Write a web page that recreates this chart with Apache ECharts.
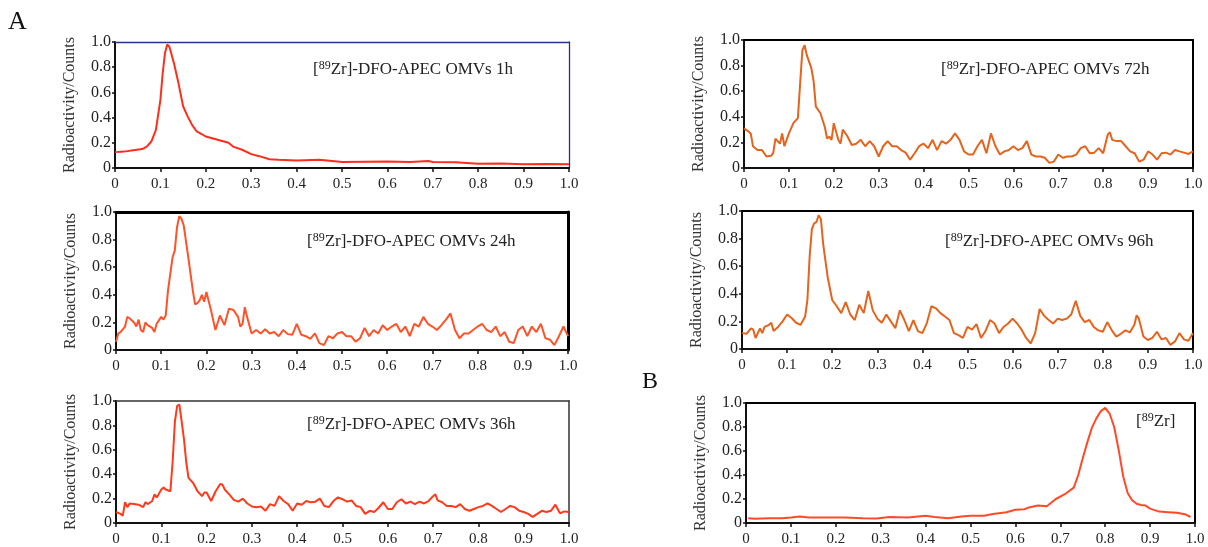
<!DOCTYPE html>
<html><head><meta charset="utf-8">
<script src="https://cdn.jsdelivr.net/npm/echarts@6/dist/echarts.min.js"></script>
<style>html,body{margin:0;padding:0;background:#fff}#c{width:1208px;height:547px}</style>
</head><body><div id="c"></div>
<script>
// ---- data (x = relative migration distance, y = radioactivity/counts) ----
const xTicks = [0,0.1,0.2,0.3,0.4,0.5,0.6,0.7,0.8,0.9,1.0];
const yTicks = [0,0.2,0.4,0.6,0.8,1.0];
const panelLabels = ['1h','24h','36h','72h','96h','free'];

const omv1h = [[0,0.126],[0.02,0.13],[0.04,0.14],[0.06,0.15],[0.07,0.17],[0.08,0.21],[0.09,0.30],[0.1,0.54],[0.105,0.75],[0.11,0.91],[0.115,0.98],[0.12,0.96],[0.13,0.83],[0.14,0.67],[0.15,0.49],[0.16,0.41],[0.17,0.34],[0.18,0.29],[0.19,0.27],[0.2,0.25],[0.22,0.23],[0.24,0.21],[0.25,0.2],[0.26,0.17],[0.28,0.145],[0.3,0.11],[0.32,0.092],[0.34,0.07],[0.36,0.066],[0.4,0.06],[0.45,0.066],[0.5,0.047],[0.55,0.05],[0.6,0.052],[0.65,0.048],[0.69,0.055],[0.7,0.047],[0.75,0.045],[0.8,0.034],[0.85,0.035],[0.9,0.03],[0.95,0.032],[1.0,0.03]];

const omv24h = [[0,0.06],[0.005,0.12],[0.01,0.13],[0.02,0.17],[0.025,0.24],[0.03,0.23],[0.04,0.2],[0.045,0.17],[0.05,0.22],[0.055,0.145],[0.06,0.13],[0.065,0.2],[0.07,0.18],[0.08,0.16],[0.085,0.13],[0.09,0.19],[0.1,0.24],[0.105,0.22],[0.11,0.25],[0.115,0.43],[0.12,0.55],[0.125,0.67],[0.13,0.72],[0.135,0.89],[0.14,0.97],[0.145,0.95],[0.15,0.9],[0.16,0.67],[0.17,0.43],[0.175,0.33],[0.18,0.34],[0.185,0.36],[0.19,0.4],[0.195,0.35],[0.2,0.42],[0.21,0.29],[0.22,0.145],[0.23,0.25],[0.24,0.18],[0.25,0.3],[0.26,0.29],[0.27,0.24],[0.275,0.17],[0.28,0.19],[0.285,0.31],[0.29,0.24],[0.3,0.12],[0.31,0.145],[0.32,0.12],[0.33,0.15],[0.34,0.12],[0.35,0.13],[0.36,0.1],[0.37,0.145],[0.38,0.115],[0.39,0.11],[0.4,0.19],[0.41,0.11],[0.42,0.1],[0.43,0.08],[0.44,0.12],[0.45,0.05],[0.46,0.035],[0.47,0.1],[0.48,0.085],[0.49,0.12],[0.5,0.13],[0.51,0.1],[0.52,0.1],[0.53,0.06],[0.54,0.085],[0.55,0.16],[0.56,0.1],[0.57,0.145],[0.58,0.12],[0.59,0.18],[0.6,0.145],[0.61,0.17],[0.62,0.19],[0.63,0.13],[0.64,0.17],[0.65,0.1],[0.66,0.19],[0.67,0.17],[0.68,0.24],[0.69,0.19],[0.7,0.17],[0.71,0.145],[0.72,0.18],[0.73,0.22],[0.74,0.265],[0.75,0.145],[0.76,0.085],[0.77,0.12],[0.78,0.12],[0.79,0.145],[0.8,0.17],[0.81,0.19],[0.82,0.145],[0.83,0.13],[0.84,0.17],[0.85,0.1],[0.86,0.13],[0.87,0.06],[0.88,0.05],[0.89,0.145],[0.9,0.17],[0.91,0.1],[0.92,0.17],[0.93,0.13],[0.94,0.19],[0.95,0.085],[0.96,0.075],[0.97,0.035],[0.98,0.1],[0.99,0.17],[1.0,0.1]];

const omv36h = [[0,0.09],[0.01,0.075],[0.015,0.06],[0.02,0.17],[0.025,0.13],[0.03,0.16],[0.04,0.155],[0.05,0.15],[0.06,0.13],[0.065,0.17],[0.07,0.155],[0.08,0.18],[0.085,0.235],[0.09,0.21],[0.1,0.275],[0.105,0.29],[0.11,0.275],[0.12,0.26],[0.125,0.5],[0.13,0.83],[0.135,0.96],[0.14,0.97],[0.145,0.83],[0.15,0.69],[0.155,0.5],[0.16,0.37],[0.17,0.33],[0.18,0.26],[0.19,0.22],[0.195,0.25],[0.2,0.25],[0.21,0.18],[0.22,0.26],[0.23,0.32],[0.235,0.315],[0.24,0.275],[0.25,0.235],[0.26,0.19],[0.27,0.175],[0.28,0.2],[0.29,0.16],[0.3,0.135],[0.31,0.13],[0.32,0.135],[0.33,0.1],[0.34,0.155],[0.35,0.14],[0.36,0.22],[0.37,0.18],[0.38,0.155],[0.39,0.1],[0.4,0.16],[0.41,0.15],[0.42,0.18],[0.43,0.17],[0.44,0.175],[0.45,0.2],[0.46,0.14],[0.47,0.13],[0.48,0.18],[0.49,0.21],[0.5,0.195],[0.51,0.175],[0.52,0.185],[0.53,0.14],[0.54,0.13],[0.55,0.075],[0.56,0.1],[0.57,0.09],[0.58,0.125],[0.59,0.17],[0.6,0.115],[0.61,0.115],[0.62,0.17],[0.63,0.195],[0.64,0.16],[0.65,0.175],[0.66,0.155],[0.67,0.175],[0.68,0.16],[0.69,0.18],[0.7,0.22],[0.705,0.235],[0.71,0.185],[0.72,0.17],[0.73,0.14],[0.74,0.14],[0.75,0.13],[0.76,0.155],[0.77,0.115],[0.78,0.1],[0.79,0.115],[0.8,0.13],[0.81,0.14],[0.82,0.16],[0.83,0.14],[0.84,0.115],[0.85,0.09],[0.86,0.115],[0.87,0.14],[0.88,0.13],[0.89,0.1],[0.9,0.09],[0.91,0.075],[0.92,0.05],[0.93,0.075],[0.94,0.1],[0.95,0.09],[0.96,0.1],[0.97,0.15],[0.98,0.08],[0.99,0.095],[1.0,0.09]];

const omv72h = [[0,0.31],[0.01,0.285],[0.015,0.27],[0.02,0.17],[0.03,0.14],[0.04,0.14],[0.045,0.115],[0.05,0.09],[0.06,0.095],[0.065,0.115],[0.07,0.23],[0.075,0.21],[0.08,0.19],[0.085,0.27],[0.09,0.17],[0.1,0.27],[0.11,0.35],[0.12,0.39],[0.125,0.66],[0.13,0.92],[0.135,0.96],[0.14,0.88],[0.15,0.78],[0.155,0.68],[0.16,0.48],[0.17,0.43],[0.18,0.32],[0.185,0.23],[0.19,0.245],[0.195,0.22],[0.2,0.35],[0.21,0.22],[0.215,0.19],[0.22,0.30],[0.23,0.25],[0.24,0.18],[0.25,0.19],[0.26,0.22],[0.27,0.17],[0.28,0.21],[0.29,0.17],[0.3,0.09],[0.31,0.17],[0.32,0.21],[0.33,0.17],[0.34,0.17],[0.35,0.14],[0.36,0.12],[0.37,0.065],[0.38,0.115],[0.39,0.17],[0.4,0.19],[0.41,0.155],[0.42,0.22],[0.43,0.14],[0.44,0.21],[0.45,0.19],[0.46,0.22],[0.47,0.27],[0.48,0.22],[0.49,0.13],[0.5,0.105],[0.51,0.105],[0.52,0.17],[0.53,0.22],[0.54,0.115],[0.55,0.27],[0.56,0.17],[0.57,0.105],[0.58,0.13],[0.59,0.14],[0.6,0.17],[0.61,0.14],[0.62,0.155],[0.63,0.21],[0.64,0.105],[0.65,0.09],[0.66,0.09],[0.67,0.08],[0.68,0.04],[0.69,0.05],[0.7,0.105],[0.71,0.08],[0.72,0.09],[0.73,0.09],[0.74,0.105],[0.75,0.155],[0.76,0.17],[0.77,0.115],[0.78,0.12],[0.79,0.155],[0.8,0.115],[0.81,0.26],[0.815,0.28],[0.82,0.22],[0.83,0.21],[0.84,0.21],[0.85,0.17],[0.86,0.13],[0.87,0.115],[0.88,0.05],[0.89,0.065],[0.9,0.13],[0.91,0.105],[0.92,0.065],[0.93,0.115],[0.94,0.12],[0.95,0.105],[0.96,0.14],[0.97,0.13],[0.98,0.12],[0.99,0.11],[1.0,0.13]];

const omv96h = [[0,0.115],[0.01,0.11],[0.02,0.15],[0.025,0.14],[0.03,0.08],[0.04,0.15],[0.045,0.115],[0.05,0.16],[0.06,0.175],[0.065,0.19],[0.07,0.13],[0.08,0.16],[0.09,0.2],[0.1,0.25],[0.11,0.225],[0.12,0.19],[0.13,0.175],[0.14,0.235],[0.145,0.355],[0.15,0.67],[0.155,0.87],[0.16,0.91],[0.165,0.92],[0.17,0.97],[0.175,0.94],[0.18,0.76],[0.19,0.52],[0.2,0.355],[0.21,0.31],[0.22,0.26],[0.23,0.34],[0.24,0.25],[0.25,0.21],[0.26,0.32],[0.27,0.26],[0.28,0.42],[0.29,0.28],[0.3,0.22],[0.31,0.19],[0.32,0.25],[0.33,0.2],[0.34,0.15],[0.35,0.28],[0.36,0.21],[0.37,0.13],[0.38,0.21],[0.39,0.13],[0.4,0.115],[0.41,0.19],[0.42,0.31],[0.43,0.295],[0.44,0.26],[0.45,0.235],[0.46,0.21],[0.47,0.115],[0.48,0.1],[0.49,0.08],[0.5,0.16],[0.51,0.14],[0.52,0.18],[0.53,0.08],[0.54,0.13],[0.55,0.21],[0.56,0.185],[0.57,0.115],[0.58,0.16],[0.59,0.185],[0.6,0.22],[0.61,0.185],[0.62,0.14],[0.63,0.08],[0.64,0.04],[0.65,0.115],[0.66,0.29],[0.67,0.24],[0.68,0.21],[0.69,0.185],[0.7,0.22],[0.71,0.21],[0.72,0.22],[0.73,0.25],[0.74,0.35],[0.75,0.24],[0.76,0.195],[0.77,0.21],[0.78,0.16],[0.79,0.135],[0.8,0.125],[0.81,0.195],[0.82,0.135],[0.83,0.09],[0.84,0.11],[0.85,0.135],[0.86,0.12],[0.87,0.175],[0.875,0.245],[0.88,0.22],[0.89,0.09],[0.9,0.065],[0.91,0.08],[0.92,0.125],[0.93,0.07],[0.94,0.08],[0.95,0.03],[0.96,0.055],[0.97,0.115],[0.98,0.07],[0.99,0.06],[1.0,0.115]];

const freeZr = [[0.005,0.04],[0.02,0.035],[0.05,0.04],[0.08,0.04],[0.1,0.045],[0.12,0.055],[0.14,0.045],[0.18,0.045],[0.22,0.045],[0.26,0.04],[0.29,0.038],[0.32,0.05],[0.36,0.045],[0.4,0.06],[0.42,0.05],[0.45,0.04],[0.48,0.055],[0.5,0.06],[0.53,0.06],[0.55,0.075],[0.58,0.09],[0.6,0.11],[0.62,0.115],[0.63,0.13],[0.65,0.145],[0.67,0.14],[0.69,0.2],[0.71,0.24],[0.73,0.295],[0.74,0.4],[0.75,0.54],[0.76,0.67],[0.77,0.79],[0.78,0.87],[0.79,0.93],[0.8,0.96],[0.81,0.91],[0.82,0.8],[0.83,0.61],[0.84,0.39],[0.85,0.25],[0.86,0.19],[0.87,0.16],[0.88,0.15],[0.89,0.145],[0.9,0.12],[0.92,0.095],[0.94,0.09],[0.96,0.085],[0.98,0.07],[0.99,0.05]];

// ---- layout / style ----
const panels = [
  {data: omv1h,  title: '[{s|89}Zr]-DFO-APEC OMVs 1h',  tx: 313, ty: 74, grid:{left:115,top:42,width:454,height:126}, color:'#ff2e1c', edge:'#23348a', edgeW:1.3},
  {data: omv24h, title: '[{s|89}Zr]-DFO-APEC OMVs 24h', tx: 307, ty: 246, grid:{left:116,top:212,width:452,height:138}, color:'#ff5228', edge:'#000', edgeW:3},
  {data: omv36h, title: '[{s|89}Zr]-DFO-APEC OMVs 36h', tx: 307, ty: 429, grid:{left:116,top:401,width:453,height:125}, color:'#ff3a1c', edge:'#333', edgeW:1.5},
  {data: omv72h, title: '[{s|89}Zr]-DFO-APEC OMVs 72h', tx: 941, ty: 74, grid:{left:744,top:40,width:449,height:128}, color:'#e4641e', edge:'#000', edgeW:2},
  {data: omv96h, title: '[{s|89}Zr]-DFO-APEC OMVs 96h', tx: 945, ty: 246, grid:{left:742,top:211,width:451,height:138}, color:'#e4641e', edge:'#000', edgeW:2},
  {data: freeZr, title: '[{s|89}Zr]', tx: 1136, ty: 426, grid:{left:746,top:403,width:449,height:121}, color:'#ff4a2a', edge:'#000', edgeW:2}
];

const serif = 'Liberation Serif, Times New Roman, serif';
const fmt = v => (Math.abs(v) < 1e-9 ? '0' : v.toFixed(1));

const grids = [], xAxes = [], yAxes = [], series = [], graphics = [];
panels.forEach((p, i) => {
  grids.push(Object.assign({containLabel:false}, p.grid));
  xAxes.push({gridIndex:i, type:'value', min:xTicks[0], max:xTicks[xTicks.length-1], interval:0.1, position:'bottom',
    axisLine:{show:true, onZero:false, lineStyle:{color:'#111', width:2}},
    axisTick:{show:true, length:4, lineStyle:{color:'#111', width:1.5}},
    axisLabel:{fontFamily:serif, fontSize:15, color:'#222', margin:9, formatter:fmt, showMinLabel:true, showMaxLabel:true},
    splitLine:{show:false}});
  xAxes.push({gridIndex:i, type:'value', min:0, max:1, position:'top',
    axisLine:{show:true, onZero:false, lineStyle:{color:p.edge, width:p.edgeW}},
    axisTick:{show:false}, axisLabel:{show:false}, splitLine:{show:false}});
  yAxes.push({gridIndex:i, type:'value', min:yTicks[0], max:yTicks[yTicks.length-1], interval:0.2, position:'left',
    name:'Radioactivity/Counts', nameLocation:'middle', nameGap:37, nameRotate:90,
    nameTextStyle:{fontFamily:serif, fontSize:16, color:'#333'},
    axisLine:{show:true, onZero:false, lineStyle:{color:'#111', width:2}},
    axisTick:{show:true, length:3, lineStyle:{color:'#111', width:1.5}},
    axisLabel:{fontFamily:serif, fontSize:16, color:'#222', margin:4, formatter:fmt},
    splitLine:{show:false}});
  yAxes.push({gridIndex:i, type:'value', min:0, max:1, position:'right',
    axisLine:{show:true, onZero:false, lineStyle:{color:p.edge, width:p.edgeW}},
    axisTick:{show:false}, axisLabel:{show:false}, splitLine:{show:false}});
  series.push({type:'line', xAxisIndex:2*i, yAxisIndex:2*i, data:p.data, showSymbol:false, symbol:'none',
    lineStyle:{color:p.color, width:2}, animation:false, z:3});
  graphics.push({type:'text', left:p.tx, top:p.ty - 14, style:{
    text:p.title, fill:'#222', font:'17px ' + serif,
    rich:{s:{fontSize:12, fontFamily:serif, fill:'#222', padding:[0,0,8,0], verticalAlign:'bottom'},
          t:{fontSize:17}}
  }});
});
graphics.push({type:'text', left:8, top:9, style:{text:'A', font:'26px ' + serif, fill:'#111'}});
graphics.push({type:'text', left:642, top:370, style:{text:'B', font:'24px ' + serif, fill:'#111'}});

const chart = echarts.init(document.getElementById('c'), null, {renderer:'canvas'});
chart.setOption({animation:false, backgroundColor:'#fff', grid:grids, xAxis:xAxes, yAxis:yAxes, series:series, graphic:graphics});
</script></body></html>
